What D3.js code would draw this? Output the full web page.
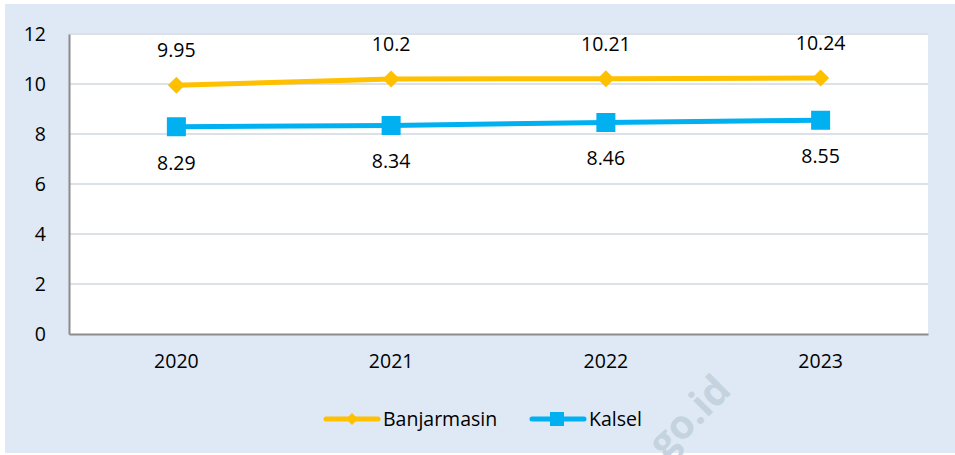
<!DOCTYPE html>
<html>
<head>
<meta charset="utf-8">
<script src="https://cdn.jsdelivr.net/npm/d3@7"></script>
<style>
  body { margin: 0; background: #fff; }
  text { font-family: 'Open Sans', sans-serif; fill: #000; }
</style>
</head>
<body>
<div id="chart"></div>
<script>
// data
const tahun = ["2020", "2021", "2022", "2023"];
const banjarmasin = [9.95, 10.2, 10.21, 10.24];
const kalsel = [8.29, 8.34, 8.46, 8.55];
const yTicks = [0, 2, 4, 6, 8, 10, 12];
const seriesNames = ["Banjarmasin", "Kalsel"];

const svgWidth = 955, svgHeight = 455;
const margin = { top: 34, right: 27, bottom: 121, left: 69 };
const width = svgWidth - margin.left - margin.right;
const height = svgHeight - margin.top - margin.bottom;
const fs = 19.5;

const colors = { Banjarmasin: "#FFC000", Kalsel: "#00B0F0" };

const root = d3.select("#chart").append("svg")
  .attr("width", svgWidth)
  .attr("height", svgHeight);

// panel de fondo
root.append("rect")
  .attr("x", 5).attr("y", 4)
  .attr("width", 950).attr("height", 449)
  .attr("fill", "#DEE9F5");

const svg = root.append("g")
  .attr("transform", `translate(${margin.left},${margin.top})`);

svg.append("rect")
  .attr("width", width).attr("height", height)
  .attr("fill", "#fff");

const x = d3.scaleBand().domain(tahun).range([0, width]);
const y = d3.scaleLinear().domain([0, 12]).range([height, 0]);
const cx = d => x(d) + x.bandwidth() / 2;

// grid
svg.selectAll(".grid")
  .data(yTicks.filter(t => t > 0))
  .enter().append("line")
  .attr("x1", 0).attr("x2", width)
  .attr("y1", d => y(d)).attr("y2", d => y(d))
  .attr("stroke", "#DCE1E7")
  .attr("stroke-width", 2);

// ejes
const yAxis = svg.append("g")
  .call(d3.axisLeft(y).tickValues(yTicks).tickSize(0).tickPadding(23));
yAxis.select(".domain").attr("stroke", "#8C8C8C").attr("stroke-width", 2);
yAxis.selectAll("text").attr("font-size", fs).style("font-family", "'Open Sans', sans-serif");

const xAxis = svg.append("g")
  .attr("transform", `translate(0,${height})`)
  .call(d3.axisBottom(x).tickSize(0).tickPadding(20));
xAxis.select(".domain").attr("stroke", "#8C8C8C").attr("stroke-width", 2);
xAxis.selectAll("text").attr("font-size", fs).style("font-family", "'Open Sans', sans-serif");

// lineas
const line = d3.line().x(d => cx(d.t)).y(d => y(d.v));
const seriesData = {
  Banjarmasin: tahun.map((t, i) => ({ t, v: banjarmasin[i] })),
  Kalsel: tahun.map((t, i) => ({ t, v: kalsel[i] }))
};

seriesNames.forEach(name => {
  svg.append("path")
    .datum(seriesData[name])
    .attr("fill", "none")
    .attr("stroke", colors[name])
    .attr("stroke-width", 5)
    .attr("d", line);
});

// marcadores
svg.selectAll(".diamond")
  .data(seriesData.Banjarmasin)
  .enter().append("path")
  .attr("transform", d => `translate(${cx(d.t)},${y(d.v)})`)
  .attr("d", "M0,-8.5L8.5,0L0,8.5L-8.5,0Z")
  .attr("fill", colors.Banjarmasin);

svg.selectAll(".square")
  .data(seriesData.Kalsel)
  .enter().append("rect")
  .attr("x", d => cx(d.t) - 9.5)
  .attr("y", d => y(d.v) - 9.5)
  .attr("width", 19).attr("height", 19)
  .attr("fill", colors.Kalsel);

// etiquetas
svg.selectAll(".lblB")
  .data(seriesData.Banjarmasin)
  .enter().append("text")
  .attr("x", d => cx(d.t))
  .attr("y", d => y(d.v) - 35)
  .attr("dy", "0.35em")
  .attr("text-anchor", "middle")
  .attr("font-size", fs)
  .text(d => d.v);

svg.selectAll(".lblK")
  .data(seriesData.Kalsel)
  .enter().append("text")
  .attr("x", d => cx(d.t))
  .attr("y", d => y(d.v) + 36)
  .attr("dy", "0.35em")
  .attr("text-anchor", "middle")
  .attr("font-size", fs)
  .text(d => d.v);

// leyenda
const legend = root.append("g").attr("transform", "translate(0,419)");
const legendX = { Banjarmasin: 324, Kalsel: 530 };
seriesNames.forEach(name => {
  const g = legend.append("g").attr("transform", `translate(${legendX[name]},0)`);
  g.append("line")
    .attr("x1", 2).attr("x2", 54)
    .attr("stroke", colors[name])
    .attr("stroke-width", 5)
    .attr("stroke-linecap", "round");
  if (name === "Banjarmasin") {
    g.append("path").attr("d", "M28,-6L34,0L28,6L22,0Z").attr("fill", colors[name]);
  } else {
    g.append("rect").attr("x", 20).attr("y", -7).attr("width", 14).attr("height", 14).attr("fill", colors[name]);
  }
  g.append("text")
    .attr("x", 59)
    .attr("dy", "0.35em")
    .attr("font-size", fs)
    .text(name);
});

// marca de agua
root.append("text")
  .attr("transform", "translate(733,392) rotate(-45)")
  .attr("text-anchor", "end")
  .attr("font-size", 40)
  .attr("font-weight", "bold")
  .style("fill", "#C5D3DF")
  .text("bps.go.id");
</script>
</body>
</html>
